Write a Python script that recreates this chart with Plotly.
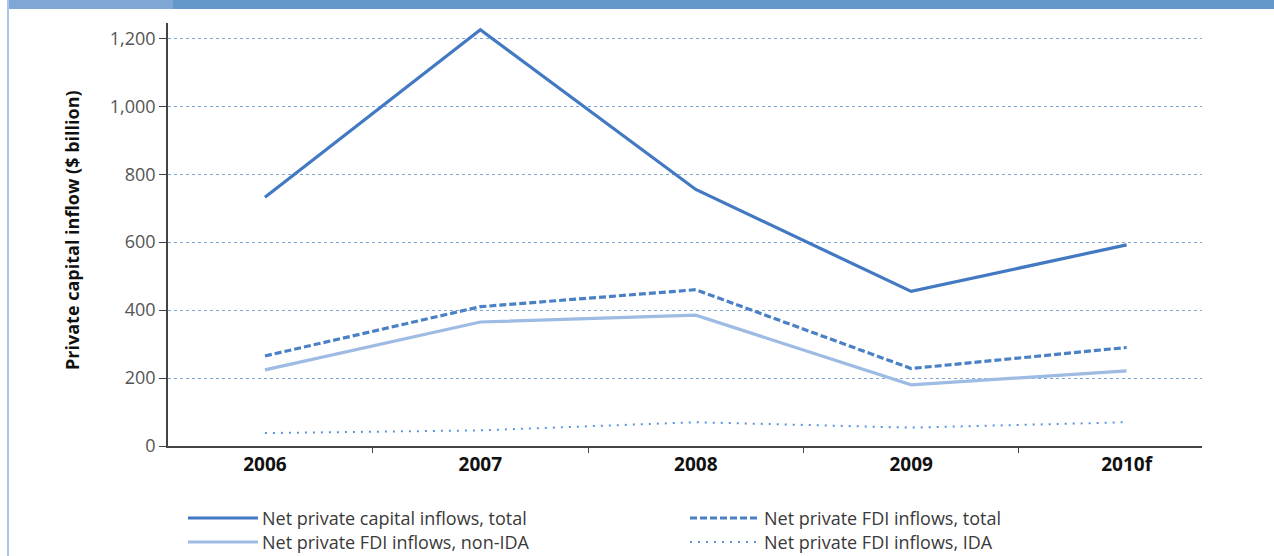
"""
Private capital inflows 2006-2010f, line chart with a hand-drawn legend below.
"""
import plotly.graph_objects as go

# data (US$ billion)
years = ["2006", "2007", "2008", "2009", "2010f"]
capital_total = [732, 1225, 755, 455, 592]
fdi_total = [265, 410, 460, 228, 290]
fdi_non_ida = [224, 365, 385, 180, 221]
fdi_ida = [38, 46, 70, 54, 70]
y_ticks = [0, 200, 400, 600, 800, 1000, 1200]

# plot area in pixels
W, H = 1274, 556
L, R, T, B = 168, 72, 23, 110
PW, PH = W - L - R, H - T - B


def px(x):
    return (x - L) / PW


def py(y):
    return (H - B - y) / PH


series = [
    ("Net private capital inflows, total", capital_total, "#4279c2", 3.2, "solid"),
    ("Net private FDI inflows, total", fdi_total, "#4a80c6", 3.2, "7px,3px"),
    ("Net private FDI inflows, non-IDA", fdi_non_ida, "#9dbbe3", 3.2, "solid"),
    ("Net private FDI inflows, IDA", fdi_ida, "#5b95d8", 2, "2px,6px"),
]

fig = go.Figure()
for name, vals, color, width, dash in series:
    fig.add_trace(go.Scatter(
        x=years, y=vals, name=name, mode="lines",
        line=dict(color=color, width=width, dash=dash),
        showlegend=False,
    ))

shapes = []
annotations = []

# ===== legend (two columns, two rows) =====
legend_pos = [(188, 518), (690, 518), (188, 542), (690, 542)]
for (name, _, color, width, dash), (lx, ly) in zip(series, legend_pos):
    shapes.append(dict(
        type="line", xref="paper", yref="paper",
        x0=px(lx), x1=px(lx + 70), y0=py(ly), y1=py(ly),
        line=dict(color=color, width=width, dash=dash),
    ))
    annotations.append(dict(
        xref="paper", yref="paper", x=px(lx + 72), y=py(ly),
        text=name, showarrow=False, xanchor="left", yanchor="middle",
        font=dict(family="Open Sans", size=18, color="#3a3a3a"),
    ))

# y axis title
annotations.append(dict(
    xref="paper", yref="paper", x=px(72), y=py(230),
    text="<b>Private capital inflow ($ billion)</b>", textangle=-90,
    showarrow=False, xanchor="center", yanchor="middle",
    font=dict(family="Open Sans", size=18, color="#111111"),
))

# ===== page decoration: top band and left rule =====
shapes += [
    dict(type="rect", xref="paper", yref="paper", x0=px(8), x1=px(173),
         y0=py(0), y1=py(9), line=dict(width=0), fillcolor="#7fa7d5", layer="below"),
    dict(type="rect", xref="paper", yref="paper", x0=px(173), x1=px(W),
         y0=py(0), y1=py(9), line=dict(width=0), fillcolor="#6497ca", layer="below"),
    dict(type="line", xref="paper", yref="paper", x0=px(8), x1=px(8),
         y0=py(0), y1=py(H), line=dict(color="#a9c5e8", width=2)),
]

fig.update_layout(
    width=W, height=H,
    margin=dict(l=L, r=R, t=T, b=B),
    plot_bgcolor="white", paper_bgcolor="white",
    xaxis=dict(
        range=[-0.45, 4.35],
        showline=True, linecolor="#444444", linewidth=1.5,
        ticks="outside", ticklen=5, tickcolor="#444444", tickson="boundaries",
        showgrid=False,
        tickfont=dict(family="Open Sans", size=19, color="#111111", weight="bold"),
    ),
    yaxis=dict(
        range=[0, 1245], tickvals=y_ticks, tickformat=",d",
        showline=True, linecolor="#444444", linewidth=1.5,
        ticks="outside", ticklen=7, tickcolor="#444444",
        showgrid=True, gridcolor="#7fa7d6", gridwidth=1, griddash="dot",
        zeroline=False,
        tickfont=dict(family="Open Sans", size=18, color="#555555"),
    ),
    shapes=shapes,
    annotations=annotations,
)

# drop the browser's default body margin so the figure sits at the page corner
fig.write_html(
    "out.html",
    config={"displayModeBar": False},
    post_script="document.body.style.margin = '0';",
)
